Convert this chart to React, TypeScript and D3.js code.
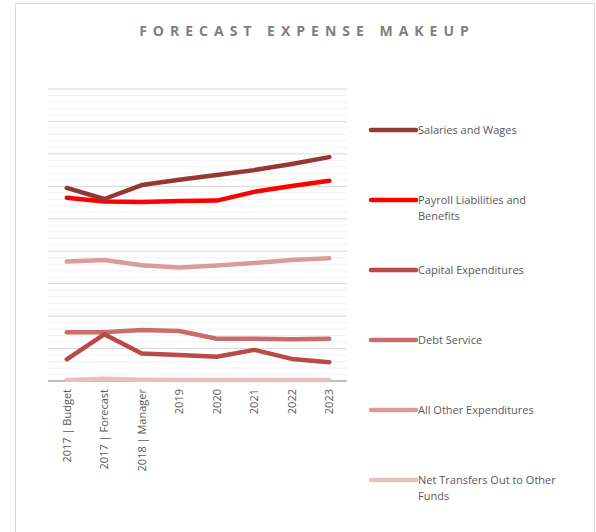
import React from "react";
import * as d3 from "d3";

const categories = ["2017 | Budget", "2017 | Forecast", "2018 | Manager", "2019", "2020", "2021", "2022", "2023"];
const seriesNames = [
  "Salaries and Wages",
  "Payroll Liabilities and Benefits",
  "Capital Expenditures",
  "Debt Service",
  "All Other Expenditures",
  "Net Transfers Out to Other Funds",
];
const legendLines = [
  ["Salaries and Wages"],
  ["Payroll Liabilities and", "Benefits"],
  ["Capital Expenditures"],
  ["Debt Service"],
  ["All Other Expenditures"],
  ["Net Transfers Out to Other", "Funds"],
];
const salaries = [5.95, 5.61, 6.04, 6.2, 6.35, 6.5, 6.69, 6.9];
const payroll = [5.65, 5.53, 5.52, 5.55, 5.56, 5.83, 6.01, 6.17];
const capital = [0.67, 1.44, 0.85, 0.8, 0.75, 0.96, 0.68, 0.58];
const debt = [1.5, 1.5, 1.57, 1.54, 1.3, 1.3, 1.29, 1.3];
const allOther = [3.68, 3.73, 3.57, 3.5, 3.56, 3.64, 3.73, 3.78];
const netTransfers = [0.03, 0.07, 0.04, 0.03, 0.03, 0.03, 0.03, 0.03];
const seriesValues = [salaries, payroll, capital, debt, allOther, netTransfers];
const colors = ["#953735", "#ff0000", "#b94a48", "#c86d6b", "#d99c9b", "#e6c1c0"];
const yMax = 9;

export default function App() {
  const W = 596, H = 532;
  const left = 48, right = 348, top = 89, bottom = 381;
  const x = d3.scalePoint<string>().domain(categories).range([left, right]).padding(0.5);
  const y = d3.scaleLinear().domain([0, yMax]).range([bottom, top]);
  const majors = d3.range(1, yMax + 1);
  const minors = d3.range(0, yMax * 5).map((i) => i / 5).filter((v) => Math.abs(v - Math.round(v)) > 1e-6);
  const line = d3
    .line<number>()
    .x((_, i) => x(categories[i])!)
    .y((d) => y(d));
  const font = "'Open Sans', sans-serif";
  return (
    <svg width={W} height={H} style={{ position: "absolute", left: 0, top: 0 }}>
      <rect x={0} y={0} width={W} height={H} fill="#fff" />
      <rect x={15.5} y={3.5} width={579} height={H} fill="none" stroke="#d9d9d9" strokeWidth={1} />
      <text
        x={307}
        y={35.5}
        textAnchor="middle"
        fill="#7f7f7f"
        fontFamily={font}
        fontSize={14}
        fontWeight="bold"
        letterSpacing={6}
      >
        FORECAST EXPENSE MAKEUP
      </text>
      {minors.map((v) => (
        <line key={"m" + v} x1={left} x2={right - 1} y1={y(v)} y2={y(v)} stroke="#f2f2f2" strokeWidth={1} />
      ))}
      {majors.map((v) => (
        <line key={"M" + v} x1={left} x2={right - 1} y1={y(v)} y2={y(v)} stroke="#d9d9d9" strokeWidth={1} />
      ))}
      <line x1={left} x2={right - 1} y1={y(0)} y2={y(0)} stroke="#bfbfbf" strokeWidth={2} />
      {categories.map((c) => (
        <text
          key={c}
          transform={`translate(${x(c)! + 4},389) rotate(-90)`}
          textAnchor="end"
          fill="#595959"
          fontFamily={font}
          fontSize={11}
        >
          {c}
        </text>
      ))}
      {seriesValues
        .map((vals, i) => ({ vals, i }))
        .reverse()
        .map(({ vals, i }) => (
          <path
            key={seriesNames[i]}
            d={line(vals)!}
            fill="none"
            stroke={colors[i]}
            strokeWidth={4.5}
            strokeLinecap="round"
            strokeLinejoin="round"
          />
        ))}
      {seriesNames.map((s, i) => {
        const cy = 130 + i * 70;
        return (
          <g key={"lg" + s}>
            <line x1={371} x2={416} y1={cy} y2={cy} stroke={colors[i]} strokeWidth={4.5} strokeLinecap="round" />
            {legendLines[i].map((t, j) => (
              <text key={t} x={418} y={cy + 4 + j * 16} fill="#595959" fontFamily={font} fontSize={11}>
                {t}
              </text>
            ))}
          </g>
        );
      })}
    </svg>
  );
}
